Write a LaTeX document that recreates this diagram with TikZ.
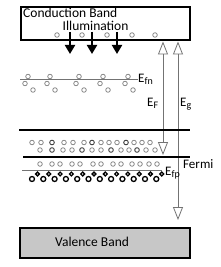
\documentclass[tikz,border=0pt]{standalone}
\usepackage{fontspec}
\setmainfont{Carlito}
\usetikzlibrary{arrows.meta}
\begin{document}
\begin{tikzpicture}[x=1pt,y=-1pt,
  hole/.style={draw=black!50, line width=0.75pt},
  darkhole/.style={draw=black!75, line width=0.9pt},
  boldhole/.style={draw=black, line width=1.3pt},
  level/.style={line width=1.4pt},
  thinlevel/.style={draw=black!55, line width=0.8pt},
  lbl/.style={inner sep=0pt, font=\fontsize{13.5}{15}\selectfont},
  sublbl/.style={inner sep=0pt, font=\fontsize{13}{15}\selectfont},
  illum/.style={line width=2pt, -{Triangle[length=9pt,width=10pt]}},
  gap/.style={draw=black!55, line width=0.8pt,
    {Triangle[open,length=13pt,width=10pt]}-{Triangle[open,length=13pt,width=10pt]}}]
\useasboundingbox (0,0) rectangle (220,267);
\newcommand{\Esub}[1]{E\raisebox{-0.35ex}{\fontsize{10}{11}\selectfont #1}}

% conduction band
\node (cb) [draw, line width=1.4pt, minimum width=169pt, minimum height=33pt, inner sep=0pt] at (105.5,23.5) {};
\node (cbt) [lbl, anchor=base west] at (23,17.8) {Conduction Band};
\node (il) [lbl, anchor=base west] at (62.5,30.2) {Illumination};
\foreach \x [count=\i] in {57,82,107,132,155}
  \draw[hole] (\x,35) circle (2.3);

% illumination arrows
\foreach \x [count=\i] in {70,92,117} {
  \coordinate (ia\i) at (\x,32);
  \coordinate (ib\i) at (\x,54);
  \draw[illum] (ia\i) -- (ib\i);
}

% E_fn level
\draw[thinlevel] (20,79) -- (138,79);
\foreach \x in {25,47,76,100,125} {
  \draw[hole] (\x+3,76.5) circle (2.3);
  \draw[hole] (\x,83.5) circle (2.3);
  \draw[hole] (\x+8,90) circle (2.3);
}
\node (efn) [sublbl, anchor=west] at (138,79) {\Esub{fn}};

% E_F and E_g arrows
\coordinate (fT) at (163,41.5);
\coordinate (fB) at (163,155);
\coordinate (gT) at (178,41.5);
\coordinate (gB) at (178,220);
\draw[gap] (fT) -- (fB);
\draw[gap] (gT) -- (gB);
\node (ef) [sublbl, anchor=west] at (147,103) {\Esub{F}};
\node (eg) [sublbl, anchor=west] at (180,104) {\Esub{g}};

% band lines
\draw[level] (19,130) -- (190,130);
\draw[level] (23,157) -- (190,157);
\draw[thinlevel] (22,170) -- (162,170);

% holes between lines
\foreach \x [count=\i] in {32,41,52,64,73,84,92,101,109,117,126,134,142,150} {
  \pgfmathtruncatemacro{\m}{mod(\i,4)}
  \ifnum\m=3 \draw[darkhole] (\x,142.5) circle (2.3); \else \draw[hole] (\x,142.5) circle (2.3); \fi
}
\foreach \x [count=\i] in {40,52,63,72,82,92,101,111,121,129,137,146,155} {
  \pgfmathtruncatemacro{\m}{mod(\i,3)}
  \ifnum\m=2 \draw[darkhole] (\x,150) circle (2.3); \else \draw[hole] (\x,150) circle (2.3); \fi
}
% Fermi row
\foreach \x in {40,52,60,72,80,93,101,113,121,132,140,149,157}
  \draw[hole] (\x,164) circle (2.3);
\node (fermi) [sublbl, anchor=west] at (183,164) {Fermi};

% E_fp bold row
\foreach \k in {0,...,11} {
  \draw[boldhole] (32+11.3*\k,179) circle (2.5);
  \draw[boldhole] (37.5+11.3*\k,174) circle (1.9);
}
\node (efp) [sublbl, anchor=west] at (165,173) {\Esub{fp}};

% valence band
\node (vb) [draw, line width=1.4pt, fill=black!22, minimum width=170pt, minimum height=30pt, inner sep=0pt] at (105,243) {};
\node (vbt) [lbl, anchor=west] at (55,242) {Valence Band};
\end{tikzpicture}
\end{document}
